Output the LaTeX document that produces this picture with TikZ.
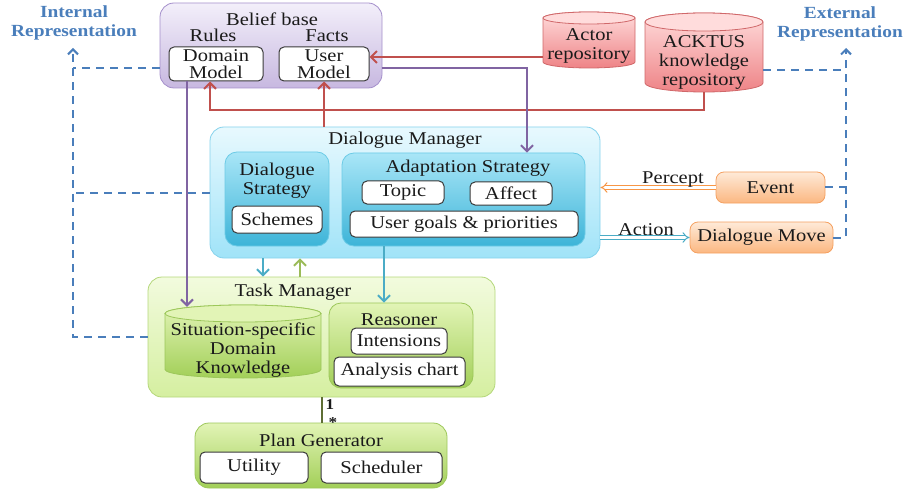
\documentclass[tikz,border=0pt]{standalone}
\usepackage{fontspec}
\setmainfont[FakeStretch=1.14]{Liberation Serif}
\usetikzlibrary{arrows.meta}

\definecolor{ink}{HTML}{1A1A1A}
\definecolor{boxedge}{HTML}{3A3A3A}
\definecolor{repblue}{HTML}{4A7EBB}
\definecolor{redline}{HTML}{C0504D}
\definecolor{purpline}{HTML}{8064A2}
\definecolor{cyanline}{HTML}{4BACC6}
\definecolor{greenline}{HTML}{9BBB59}
\definecolor{oliveline}{HTML}{5E6E34}
\definecolor{orangeline}{HTML}{F79646}
% panel fills
\definecolor{bbTop}{HTML}{F3EFFA}
\definecolor{bbBot}{HTML}{C7B8E0}
\definecolor{bbEdge}{HTML}{A48FCB}
\definecolor{repTop}{HTML}{FFDCDC}
\definecolor{repBot}{HTML}{EE8386}
\definecolor{repEdge}{HTML}{D0686A}
\definecolor{dmTop}{HTML}{E8F9FE}
\definecolor{dmBot}{HTML}{A0E3F8}
\definecolor{dmEdge}{HTML}{86D2EC}
\definecolor{inTop}{HTML}{A9E6F7}
\definecolor{inBot}{HTML}{3DB4D8}
\definecolor{inEdge}{HTML}{6CCBE6}
\definecolor{tmTop}{HTML}{F2FBDE}
\definecolor{tmBot}{HTML}{D5EFA0}
\definecolor{tmEdge}{HTML}{B4D77A}
\definecolor{gTop}{HTML}{E2F4B6}
\definecolor{gBot}{HTML}{A2CF58}
\definecolor{gEdge}{HTML}{9CC75A}
\definecolor{evTop}{HTML}{FEEAD8}
\definecolor{evBot}{HTML}{FBB781}
\definecolor{evEdge}{HTML}{F5A060}

\newcommand\txt{\fontsize{18}{19}\selectfont}
\newcommand\cyltxt{\fontsize{18}{19}\selectfont}
\newcommand\reptxt{\fontsize{17}{18.5}\selectfont\bfseries}

% cylinder outline: x1, y1, x2, y2, end radius, top colour, bottom colour, edge colour
\newcommand\drawcyl[8]{%
  \path[draw=#8, line width=0.8pt, top color=#6, bottom color=#7]
    (#1,#2+#5) -- (#1,#4-#5)
    arc[start angle=180, end angle=0, x radius={(#3-#1)/2}, y radius=#5]
    -- (#3,#2+#5)
    arc[start angle=0, end angle=-180, x radius={(#3-#1)/2}, y radius=#5]
    -- cycle;
  \path[draw=#8, line width=0.8pt, fill=#6]
    ({(#1+#3)/2},#2+#5) ellipse [x radius={(#3-#1)/2}, y radius=#5];
}

\tikzset{
  panel/.style={rounded corners=14pt, line width=0.8pt, inner sep=0pt},
  wbox/.style={draw=boxedge, fill=white, rounded corners=5pt, line width=1pt,
               inner sep=0pt, align=center, font=\txt, text=ink},
  lbl/.style={inner sep=0pt, align=center, font=\txt, text=ink},
  replbl/.style={inner sep=0pt, align=center, font=\reptxt, text=repblue},
  link/.style={line width=2pt, line join=miter},
  barb/.style={-{Straight Barb[length=6pt,width=12pt,line width=2pt]}},
  dashlink/.style={line width=2pt, draw=repblue, dash pattern=on 8pt off 6pt},
  dbl/.style={line width=1pt, double=white, double distance=2.6pt,
              -{Implies[length=8pt]}},
}

\begin{document}
\begin{tikzpicture}[x=1pt, y=-1pt]
\useasboundingbox (0,0) rectangle (912,489);

% ---------- row coordinates ----------
\coordinate (r57) at (0,57);
\coordinate (r68) at (0,68);
\coordinate (r110) at (0,110);
\coordinate (inTopC) at (73,48);
\coordinate (exTopC) at (846,48);
\coordinate (c187) at (187,0);
\coordinate (c210) at (210,0);
\coordinate (c263) at (263,0);
\coordinate (c300) at (300,0);
\coordinate (c322) at (322,0);
\coordinate (c384) at (384,0);
\coordinate (c527) at (527,68);

% ---------- Belief base ----------
\node[panel, draw=bbEdge, top color=bbTop, bottom color=bbBot,
      minimum width=222, minimum height=85] (bb) at (271,45.5) {};
\node[lbl] (bbT) at (272,19) {Belief base};
\node[lbl] (rulesT) at (213,35.5) {Rules};
\node[lbl] (factsT) at (327,35.5) {Facts};
\node[wbox, minimum width=94, minimum height=34] (dmod) at (216,64) {Domain\\[-1.5pt]Model};
\node[wbox, minimum width=90, minimum height=34] (um) at (324,64) {User\\[-1.5pt]Model};

% ---------- repositories ----------
\drawcyl{543}{12}{635}{68}{6}{repTop}{repBot}{repEdge}
\node[inner sep=0pt, minimum width=92, minimum height=56] (actor) at (589,40) {};
\node[lbl, font=\cyltxt] (actorT) at (589,46.5) {Actor\\repository};

\drawcyl{645}{13}{763}{92}{9}{repTop}{repBot}{repEdge}
\node[inner sep=0pt, minimum width=118, minimum height=79] (ack) at (704,52.5) {};
\node[lbl, font=\cyltxt] (ackT) at (704,62) {ACKTUS\\knowledge\\repository};

% ---------- side labels ----------
\node[replbl] (inRep) at (74,23) {Internal\\Representation};
\node[replbl] (exRep) at (840,24) {External\\Representation};

% ---------- Dialogue Manager ----------
\node[panel, draw=dmEdge, top color=dmTop, bottom color=dmBot,
      minimum width=390, minimum height=131] (dm) at (405,192.5) {};
\node[lbl] (dmT) at (405,140.5) {Dialogue Manager};
\node[panel, rounded corners=12pt, draw=inEdge, top color=inTop, bottom color=inBot,
      minimum width=104, minimum height=94] (ds) at (277,199) {};
\node[lbl] (dsT) at (277,181) {Dialogue\\Strategy};
\node[wbox, minimum width=90, minimum height=27] (sch) at (277,219.5) {Schemes};
\node[panel, rounded corners=12pt, draw=inEdge, top color=inTop, bottom color=inBot,
      minimum width=243, minimum height=93] (as) at (463.5,199.5) {};
\node[lbl] (asT) at (468,168.5) {Adaptation Strategy};
\node[wbox, minimum width=82, minimum height=23] (topic) at (403,192.5) {Topic};
\node[wbox, minimum width=82, minimum height=23] (affect) at (511,193.5) {Affect};
\node[wbox, minimum width=228, minimum height=26] (goals) at (464,224) {User goals \& priorities};

% ---------- Task Manager ----------
\node[panel, draw=tmEdge, top color=tmTop, bottom color=tmBot,
      minimum width=347, minimum height=120] (tm) at (321.5,337) {};
\node[lbl] (tmT) at (293,292.5) {Task Manager};
\drawcyl{165}{305}{321}{378}{8.5}{gTop}{gBot}{gEdge}
\node[inner sep=0pt, minimum width=156, minimum height=73] (sk) at (243,341.5) {};
\node[lbl, font=\cyltxt] (skT) at (243,350.5) {Situation-specific\\Domain\\Knowledge};
\node[panel, rounded corners=12pt, draw=gEdge, top color=gTop, bottom color=gBot,
      minimum width=144, minimum height=85] (rs) at (401,345.5) {};
\node[lbl] (rsT) at (399,319.5) {Reasoner};
\node[wbox, minimum width=96, minimum height=26] (intens) at (399,341) {Intensions};
\node[wbox, minimum width=131, minimum height=29] (chart) at (399.5,371.5) {Analysis chart};

% ---------- Plan Generator ----------
\node[panel, draw=gEdge, top color=gTop, bottom color=gBot,
      minimum width=252, minimum height=65] (pg) at (321,455.5) {};
\node[lbl] (pgT) at (321,440.5) {Plan Generator};
\node[wbox, minimum width=108, minimum height=31] (util) at (254,467.5) {Utility};
\node[wbox, minimum width=121, minimum height=31] (sched) at (381.5,467.5) {Scheduler};

% ---------- Event / Dialogue Move ----------
\node[panel, rounded corners=8pt, draw=evEdge, top color=evTop, bottom color=evBot,
      minimum width=109, minimum height=31, font=\txt, text=ink] (event) at (770.5,187.5) {Event};
\node[panel, rounded corners=8pt, draw=evEdge, top color=evTop, bottom color=evBot,
      minimum width=143, minimum height=31, font=\txt, text=ink] (move) at (761.5,237.5) {Dialogue Move};

% ---------- red links from the repositories ----------
\draw[link, redline, barb] (ack.south) -- (ack.south |- r110) -- (c210 |- r110) -- (c210 |- dmod.south);
\draw[link, redline, barb] (um.south |- dm.north) -- (um.south);
\draw[link, redline, barb] (actor.west |- r57) -- (um.east |- r57);

% ---------- purple links from the belief base ----------
\draw[link, purpline, barb] (bb.east |- c527) -- (c527) -- (c527 |- as.north);
\draw[link, purpline, barb] (c187 |- dmod.south) -- ([yshift=-2pt]c187 |- sk.north);

% ---------- managers ----------
\draw[link, cyanline, barb] (c263 |- dm.south) -- (c263 |- tm.north);
\draw[link, greenline, barb] (c300 |- tm.north) -- (c300 |- dm.south);
\draw[link, cyanline, barb] (c384 |- as.south) -- (c384 |- rs.north);
\draw[line width=2.5pt, oliveline] (c322 |- tm.south) -- (c322 |- pg.north);
\node[inner sep=0pt, font=\fontsize{15}{15}\selectfont\bfseries, text=ink] (one) at (330,405) {1};
\node[inner sep=0pt, font=\fontsize{15}{15}\selectfont\bfseries, text=ink] (many) at (333,423) {*};

% ---------- percept / action ----------
\draw[dbl, orangeline] (event.west) -- (event.west -| dm.east);
\node[lbl] (perceptT) at (673,180) {Percept};
\draw[dbl, cyanline] (move.west -| dm.east) -- (move.west);
\node[lbl] (actionT) at (646,229.5) {Action};

% ---------- internal representation (dashed) ----------
\draw[dashlink, -{Straight Barb[length=5pt,width=10pt,line width=2pt]}] (tm.west) -| (inTopC);
\draw[dashlink] (bb.west |- r68) -- (inTopC |- r68);
\draw[dashlink] (dm.west) -- (inTopC |- dm.west);

% ---------- external representation (dashed) ----------
\draw[dashlink, -{Straight Barb[length=5pt,width=10pt,line width=2pt]}] (move.east) -| (exTopC);
\draw[dashlink] (event.east) -- (exTopC |- event.east);
\draw[dashlink] (ack.east |- 0,70) -- (exTopC |- 0,70);

\end{tikzpicture}
\end{document}
